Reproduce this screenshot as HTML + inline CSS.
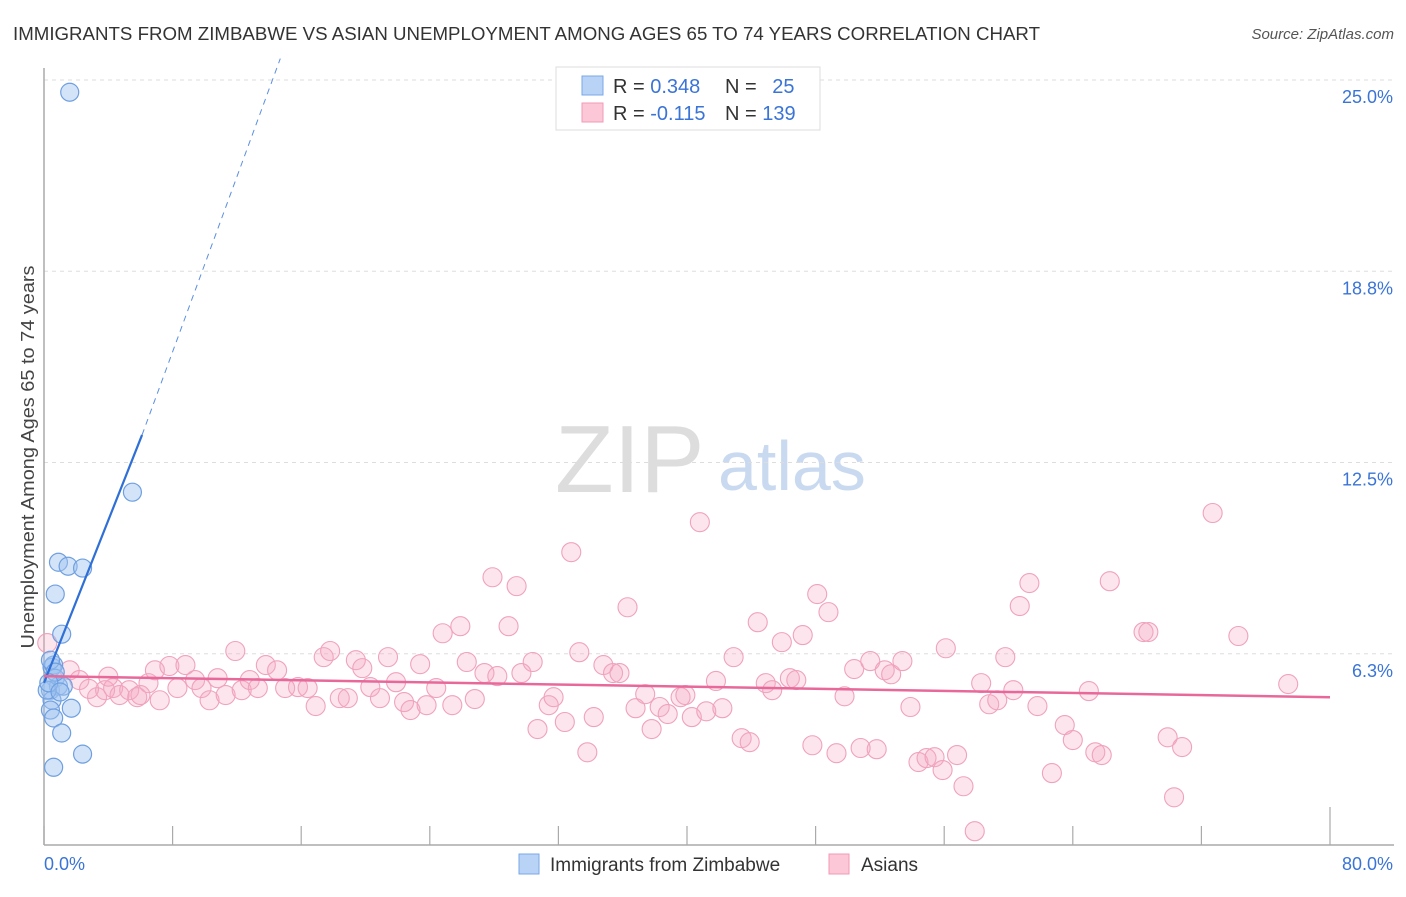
<!DOCTYPE html>
<html><head><meta charset="utf-8"><style>
body{margin:0;background:#fff;font-family:"Liberation Sans",sans-serif}
svg text{font-family:"Liberation Sans",sans-serif}
</style></head><body>
<svg id="chart" width="1406" height="892" xmlns="http://www.w3.org/2000/svg">
<text x="13" y="40" font-size="18" fill="#333" textLength="1027" lengthAdjust="spacingAndGlyphs">IMMIGRANTS FROM ZIMBABWE VS ASIAN UNEMPLOYMENT AMONG AGES 65 TO 74 YEARS CORRELATION CHART</text>
<text x="1394" y="39" font-size="15" fill="#555" text-anchor="end" font-style="italic">Source: ZipAtlas.com</text>
<g><text x="555" y="492" font-size="96" font-family="Liberation Serif" fill="#ddd">ZIP</text><text x="718" y="490" font-size="70" fill="#c9daf0">atlas</text></g>
<g id="grid"></g><g id="axes"></g><g id="pink"></g><g id="blue"></g><g id="trend"></g>
<text transform="translate(34,457) rotate(-90)" font-size="18" fill="#444" text-anchor="middle" textLength="383" lengthAdjust="spacingAndGlyphs">Unemployment Among Ages 65 to 74 years</text>
<g>
<rect x="556" y="67" width="264" height="63" fill="#fff" stroke="#ddd"/>
<rect x="582" y="76" width="21" height="19" fill="#b8d3f5" stroke="#7aa7e6"/>
<rect x="582" y="103" width="21" height="19" fill="#fcc8d8" stroke="#f09ab6"/>
<text x="613" y="93" font-size="20" fill="#333">R = <tspan fill="#3a74d6">0.348</tspan></text>
<text x="725" y="93" font-size="20" fill="#333">N = <tspan fill="#3a74d6" dx="10">25</tspan></text>
<text x="613" y="120" font-size="20" fill="#333">R = <tspan fill="#3a74d6">-0.115</tspan></text>
<text x="725" y="120" font-size="20" fill="#333">N = <tspan fill="#3a74d6">139</tspan></text>
</g>
<g>
<rect x="519" y="854" width="20" height="20" fill="#b8d3f5" stroke="#7aa7e6"/>
<text x="550" y="871" font-size="19" fill="#333">Immigrants from Zimbabwe</text>
<rect x="829" y="854" width="20" height="20" fill="#fcc8d8" stroke="#f09ab6"/>
<text x="861" y="871" font-size="19" fill="#333">Asians</text>
</g>
</svg>
<script>
const yTicks=[6.25,12.5,18.75,25];
const yTickLabels=["6.3%","12.5%","18.8%","25.0%"];
const xTicks=[0,8,16,24,32,40,48,56,64,72,80];
const blueX=[1.6,5.5,0.9,1.5,2.4,0.7,1.1,0.5,0.6,0.7,0.4,0.9,1.2,0.5,0.4,0.6,1.7,1.1,0.6,2.4,0.4,0.2,0.7,0.3,1.0];
const blueY=[24.6,11.53,9.24,9.11,9.05,8.2,6.89,5.81,5.88,5.45,5.06,5.19,5.19,4.73,4.41,4.15,4.47,3.66,2.54,2.97,6.04,5.06,5.65,5.3,5.0];
const pinkX=[1.6,2.2,3.3,3.8,4.3,4.7,5.3,5.8,6.5,6.9,7.2,7.8,8.3,8.8,9.4,9.8,10.3,10.8,11.3,11.9,12.3,12.8,13.3,13.8,14.5,15.0,15.8,16.4,16.9,17.4,17.8,18.4,18.9,19.4,19.8,20.3,20.9,21.4,21.9,22.4,22.8,23.4,23.8,24.4,24.8,25.4,25.9,26.3,26.8,27.4,27.9,28.2,28.9,29.4,29.7,30.4,30.7,31.4,31.7,32.4,32.8,33.3,33.8,34.2,34.8,35.4,35.8,36.3,36.8,37.4,37.8,38.3,38.8,39.6,39.9,40.3,40.8,41.2,41.8,42.2,42.9,43.4,43.9,44.4,44.9,45.3,45.9,46.4,46.8,47.2,47.8,48.1,48.8,49.3,49.8,50.4,50.8,51.4,51.8,52.3,52.7,53.4,53.9,54.4,54.9,55.4,55.9,56.1,56.8,57.2,57.9,58.3,58.8,59.3,59.8,60.3,60.7,61.3,61.8,62.7,63.5,64.0,65.0,65.4,65.8,66.3,68.4,68.7,69.9,70.3,70.8,72.7,74.3,77.4,0.2,2.8,4.0,6.0];
const pinkY=[5.71,5.39,4.83,5.06,5.13,4.9,5.06,4.83,5.29,5.71,4.73,5.85,5.13,5.88,5.39,5.13,4.73,5.45,4.9,6.34,5.06,5.39,5.13,5.88,5.71,5.13,5.16,5.13,4.54,6.14,6.34,4.8,4.8,6.04,5.78,5.16,4.8,6.14,5.32,4.67,4.41,5.91,4.57,5.13,6.92,4.57,7.15,5.98,4.77,5.62,8.75,5.52,7.15,8.46,5.62,5.98,3.79,4.57,4.83,4.02,9.57,6.3,3.03,4.18,5.88,5.62,5.62,7.77,4.47,4.93,3.79,4.51,4.28,4.83,4.9,4.18,10.55,4.37,5.36,4.47,6.14,3.49,3.36,7.28,5.29,5.06,6.63,5.45,5.39,6.86,3.26,8.2,7.61,3.0,4.86,5.75,3.17,6.01,3.13,5.71,5.58,6.01,4.51,2.71,2.84,2.87,2.45,6.43,2.94,1.92,0.45,5.29,4.6,4.73,6.14,5.06,7.81,8.56,4.54,2.35,3.92,3.43,5.03,3.03,2.94,8.62,6.96,6.96,3.52,1.56,3.2,10.85,6.83,5.26,6.6,5.1,5.5,4.9];
const blueTrend=[[0,5.3],[6.1,13.4]];
const blueDash=[[6.1,13.4],[14.7,25.7]];
const pinkTrend=[[0,5.52],[80,4.83]];
const X0=44,X1=1330,Y0=845,Y25=80;
const xs=v=>X0+(X1-X0)*v/80;
const ys=v=>Y0-(Y0-Y25)*v/25;
const NS="http://www.w3.org/2000/svg";
function mk(p,t,a){const e=document.createElementNS(NS,t);for(const k in a)e.setAttribute(k,a[k]);document.getElementById(p).appendChild(e);return e;}
yTicks.forEach((t,i)=>{
 const l=mk('grid','line',{x1:X0,x2:1394,y1:ys(t),y2:ys(t),stroke:'#ddd','stroke-dasharray':'4,4'});
 
 
 const tx=mk('grid','text',{x:1393,y:ys(t)+23,'font-size':18,fill:'#3a74d6','text-anchor':'end'});
 tx.textContent=yTickLabels[i];
 
 
});
const ya=mk('axes','line',{x1:X0,x2:X0,y1:68,y2:Y0,stroke:'#aaa','stroke-width':1.5});


const xa=mk('axes','line',{x1:X0,x2:1394,y1:Y0,y2:Y0,stroke:'#aaa','stroke-width':1.5});


xTicks.forEach((t,i)=>{
 const tk=mk('axes','line',{x1:xs(t),x2:xs(t),y1:(i==xTicks.length-1?807:826),y2:Y0,stroke:'#aaa','stroke-width':1.2});
 
 
});
const xl0=mk('axes','text',{x:44,y:870,'font-size':18,fill:'#3a74d6'});xl0.textContent='0.0%';


const xl1=mk('axes','text',{x:1393,y:870,'font-size':18,fill:'#3a74d6','text-anchor':'end'});xl1.textContent='80.0%';


pinkX.forEach((v,i)=>{
 const c=mk('pink','circle',{cx:xs(v),cy:ys(pinkY[i]),r:9.5,fill:'rgba(246,170,196,0.3)',stroke:'#f0a2bd','stroke-width':1.1});
 
 
});
blueX.forEach((v,i)=>{
 const c=mk('blue','circle',{cx:xs(v),cy:ys(blueY[i]),r:9,fill:'rgba(160,196,240,0.45)',stroke:'#6f9fe0','stroke-width':1.2});
 
 
});
const bt=mk('trend','line',{x1:xs(blueTrend[0][0]),y1:ys(blueTrend[0][1]),x2:xs(blueTrend[1][0]),y2:ys(blueTrend[1][1]),stroke:'#2f6fd6','stroke-width':2.2});


const bd=mk('trend','line',{x1:xs(blueDash[0][0]),y1:ys(blueDash[0][1]),x2:xs(blueDash[1][0]),y2:ys(blueDash[1][1]),stroke:'#5b8fe0','stroke-width':1,'stroke-dasharray':'6,5'});


const pt=mk('trend','line',{x1:xs(pinkTrend[0][0]),y1:ys(pinkTrend[0][1]),x2:xs(pinkTrend[1][0]),y2:ys(pinkTrend[1][1]),stroke:'#e8689a','stroke-width':2.5});


</script>
</body></html>
